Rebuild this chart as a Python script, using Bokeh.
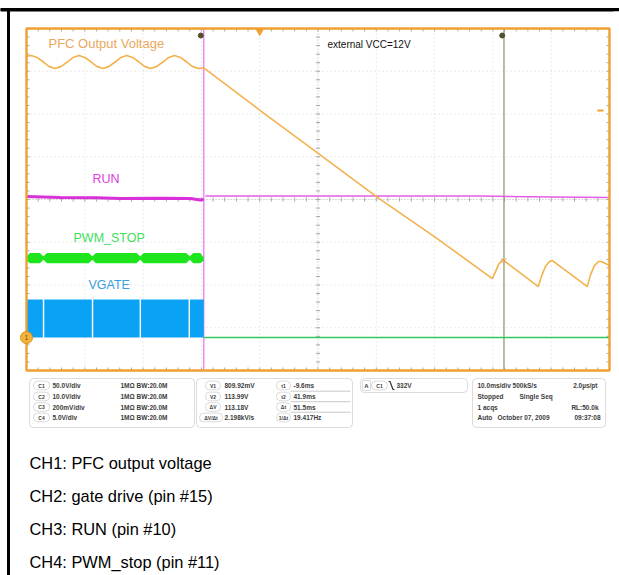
import numpy as np
from bokeh.plotting import figure
from bokeh.models import Range1d, BoxAnnotation
from bokeh.core.properties import value
from bokeh.embed import file_html
from bokeh.resources import INLINE

# ---------------- data ----------------
VDIV = {"CH1": 50.0, "CH2": 10.0, "CH3": 0.2, "CH4": 5.0}   # volts / division
GND = {"CH1": 0.77, "CH2": 0.77, "CH3": 4.0, "CH4": 0.77}   # ground position (div above bottom)
MS_PER_DIV = 10.0
T_START = -40.0
T_END = 60.0
CURSOR_T1 = -9.6
CURSOR_T2 = 41.9

# CH1: PFC output voltage (V)
pfc_t = [-40.0, -39.2, -38.2, -37.1, -36.1, -35.1, -34.1, -33.0, -32.0, -31.0,
         -30.0, -28.9, -27.9, -26.9, -25.9, -24.8, -23.8, -22.8, -21.8, -20.7,
         -19.7, -18.7, -17.7, -16.6, -15.6, -14.6, -13.6, -12.5, -11.5, -10.5,
         -9.6, 0.1, 8.7, 20.2, 30.2, 39.9, 40.45, 40.96, 41.65, 47.8,
         48.3, 49.0, 49.7, 50.2, 56.2, 56.7, 57.4, 58.1, 58.6, 60.0]
pfc_v = [329.0, 330.0, 327.7, 322.3, 316.9, 314.6, 316.9, 322.3, 327.7, 330.0,
         327.7, 322.3, 316.9, 314.6, 316.9, 322.3, 327.7, 330.0, 327.7, 322.3,
         316.9, 314.6, 316.9, 322.3, 327.7, 330.0, 327.7, 322.3, 316.9, 314.6,
         315.5, 265.5, 222.2, 164.0, 117.0, 69.0, 77.2, 85.4, 91.2, 59.6,
         71.3, 83.0, 88.9, 90.1, 59.6, 72.5, 84.2, 88.9, 88.9, 84.2]

# CH3: RUN (V)
run_before_t = [-40.0, -34.2, -28.0, -23.9, -17.0, -11.9, -10.2, -9.6]
run_before_v = [0.014, 0.009, 0.008, 0.005, 0.006, 0.005, -0.002, 0.0]
run_after_t = [-9.3, 37.9, 49.9, 60.0]
run_after_v = [0.016, 0.016, 0.012, 0.009]

# CH4: PWM_STOP envelope (V)
pwm_t = [-40.0, -39.4, -37.7, -37.1, -36.5, -29.3, -28.7, -28.1, -21.1, -20.5,
         -19.9, -12.6, -12.0, -11.4, -10.2, -9.6]
pwm_hi = [9.5, 9.9, 9.9, 9.5, 9.9, 9.9, 9.5, 9.9, 9.9, 9.5,
          9.9, 9.9, 9.5, 9.9, 9.9, 9.4]
pwm_lo = [9.0, 8.7, 8.7, 9.1, 8.7, 8.7, 9.1, 8.7, 8.7, 9.1,
          8.7, 8.7, 9.1, 8.7, 8.7, 9.0]
pwm_off_t = [-9.6, 60.0]
pwm_off_v = [0.0, 0.0]

# CH2: VGATE switching bursts (ms) and level (V)
vgate_on = [-40.0, -36.95, -28.55, -20.35, -11.95]
vgate_off = [-37.2, -28.8, -20.6, -12.2, -9.6]
vgate_high = 8.9

# readout texts
ch_rows = [("C1", "50.0V/div"), ("C2", "10.0V/div"), ("C3", "200mV/div"), ("C4", "5.0V/div")]
cur_v = [("V1", "809.92mV"), ("V2", "113.99V"), ("ΔV", "113.18V"), ("ΔV/Δt", "2.198kV/s")]
cur_t = [("t1", "-9.6ms"), ("t2", "41.9ms"), ("Δt", "51.5ms"), ("1/Δt", "19.417Hz")]
captions = ["CH1: PFC output voltage", "CH2: gate drive (pin #15)",
            "CH3: RUN (pin #10)", "CH4: PWM_stop (pin #11)"]

# ---------------- geometry helpers ----------------
PX_PER_MS = 5.83
PX_PER_DIV = 42.75
W, H = 619, 575


def X(px):
    return T_START + (px - 26) / PX_PER_MS


def Y(py):
    return (370 - py) / PX_PER_DIV


def to_div(v, ch):
    return list(np.asarray(v, dtype=float) / VDIV[ch] + GND[ch])


FONT = value("Liberation Sans")

p = figure(width=W, height=H, x_range=Range1d(X(0), X(W)), y_range=Range1d(Y(H), Y(0)),
           output_backend="svg", toolbar_location=None, min_border=0,
           x_axis_type=None, y_axis_type=None, outline_line_color=None,
           background_fill_color="white", border_fill_color="white")

# outer page borders
p.quad(left=[X(0)], right=[X(W)], top=[Y(8)], bottom=[Y(10.5)], color="black")
p.quad(left=[X(7)], right=[X(9)], top=[Y(8)], bottom=[Y(H)], color="black")

# graticule
gx = [T_START + MS_PER_DIV * i for i in range(1, 10) if i != 5]
p.segment(x0=gx, y0=[0] * len(gx), x1=gx, y1=[8] * len(gx), line_color="#d4d4d4", line_dash="1 3")
gy = [i for i in range(1, 8) if i != 4]
p.segment(x0=[T_START] * len(gy), y0=gy, x1=[T_END] * len(gy), y1=gy, line_color="#d4d4d4", line_dash="1 3")
p.segment(x0=[10.0], y0=[0], x1=[10.0], y1=[8], line_color="#b4b4b4", line_dash="1 2")
p.segment(x0=[T_START], y0=[4], x1=[T_END], y1=[4], line_color="#b4b4b4", line_dash="1 2")

tl_x = 3 / PX_PER_MS
tl_y = 3 / PX_PER_DIV
minor_t = np.arange(T_START + 2, T_END, 2.0)
minor_d = np.arange(0.2, 8.0, 0.2)
tick_col = "#a8a8a8"
# top and bottom edges
p.segment(x0=minor_t, y0=np.full_like(minor_t, 8), x1=minor_t, y1=np.full_like(minor_t, 8 - tl_y), line_color=tick_col)
p.segment(x0=minor_t, y0=np.full_like(minor_t, 0), x1=minor_t, y1=np.full_like(minor_t, tl_y), line_color=tick_col)
# left and right edges
p.segment(x0=np.full_like(minor_d, T_START), y0=minor_d, x1=np.full_like(minor_d, T_START + tl_x), y1=minor_d, line_color=tick_col)
p.segment(x0=np.full_like(minor_d, T_END), y0=minor_d, x1=np.full_like(minor_d, T_END - tl_x), y1=minor_d, line_color=tick_col)
# centre cross ticks
p.segment(x0=np.full_like(minor_d, 10 - tl_x * 0.7), y0=minor_d, x1=np.full_like(minor_d, 10 + tl_x * 0.7), y1=minor_d, line_color=tick_col)
p.segment(x0=minor_t, y0=np.full_like(minor_t, 4 - tl_y * 0.7), x1=minor_t, y1=np.full_like(minor_t, 4 + tl_y * 0.7), line_color=tick_col)

# cursors
p.segment(x0=[CURSOR_T1], y0=[0], x1=[CURSOR_T1], y1=[8], line_color="#f08af0", line_width=1.5)
p.segment(x0=[CURSOR_T2], y0=[0], x1=[CURSOR_T2], y1=[8], line_color="#8f8f68", line_width=1.2)
p.scatter(x=[CURSOR_T1 - 0.5, CURSOR_T2 - 0.3], y=[Y(35), Y(35)], size=5, color="#50502c")

# CH2 VGATE band
p.quad(left=vgate_on, right=vgate_off, bottom=[GND["CH2"]] * len(vgate_on),
       top=[vgate_high / VDIV["CH2"] + GND["CH2"]] * len(vgate_on), color="#0aa2f5", line_width=0)

# CH4 PWM_STOP
p.varea(x=pwm_t, y1=to_div(pwm_lo, "CH4"), y2=to_div(pwm_hi, "CH4"), fill_color="#1ee61e")
p.line(x=pwm_off_t, y=to_div(pwm_off_v, "CH4"), line_color="#30c860", line_width=1.5)

# CH3 RUN
p.line(x=run_before_t, y=to_div(run_before_v, "CH3"), line_color="#d930d9", line_width=3)
p.line(x=run_after_t, y=to_div(run_after_v, "CH3"), line_color="#e45ce4", line_width=1.5)

# CH1 PFC voltage
p.line(x=pfc_t, y=to_div(pfc_v, "CH1"), line_color="#f2b24e", line_width=1.6)
p.scatter(x=[CURSOR_T2], y=to_div([float(np.interp(CURSOR_T2, pfc_t, pfc_v))], "CH1"),
          marker="x", size=7, line_color="#e8a040", line_width=1)

# frame
p.quad(left=[T_START], right=[T_END], bottom=[0], top=[8], fill_alpha=0, line_color="#f0a030", line_width=2.4)

# trigger & level markers
p.scatter(x=[0.0], y=[Y(31)], marker="inverted_triangle", size=7, color="#f0a030")
p.scatter(x=[X(600)], y=[Y(110)], marker="dash", size=6, line_color="#f0a030", line_width=2)
p.scatter(x=[T_START], y=[GND["CH1"]], size=12, fill_color="#f4b43c", line_color="#d99020")
p.text(x=[T_START], y=[GND["CH1"]], text=["1"], text_font=FONT, text_font_size="7px",
       text_color="#7a5000", text_align="center", text_baseline="middle")

# trace labels
p.text(x=[X(48)], y=[Y(43)], text=["PFC Output Voltage"], text_font=FONT, text_font_size="13px",
       text_color="#eaa85c", text_baseline="middle")
p.text(x=[X(92)], y=[Y(178)], text=["RUN"], text_font=FONT, text_font_size="12.5px",
       text_color="#e040e0", text_baseline="middle")
p.text(x=[X(73)], y=[Y(237)], text=["PWM_STOP"], text_font=FONT, text_font_size="12.5px",
       text_color="#3ee05c", text_baseline="middle")
p.text(x=[X(88)], y=[Y(284)], text=["VGATE"], text_font=FONT, text_font_size="12.5px",
       text_color="#3a9ee0", text_baseline="middle")
p.text(x=[X(327)], y=[Y(44)], text=["external VCC=12V"], text_font=FONT, text_font_size="10px",
       text_color="#111111", text_baseline="middle")


# readout panels
def box(l, r, t, b, rad=4, col="#8a8a8a"):
    p.add_layout(BoxAnnotation(left=X(l), right=X(r), top=Y(t), bottom=Y(b), fill_alpha=0,
                               line_color=col, line_width=1, border_radius=rad))


def small(xp, yp, s, align="left", size="6.5px", col="#3c3c3c"):
    p.text(x=[X(xp)], y=[Y(yp)], text=[s], text_font=FONT, text_font_size=size,
           text_font_style="bold", text_color=col, text_align=align, text_baseline="middle")


rows_y = [385, 396, 406.5, 417]
box(29, 194, 378, 427)
for (lab, val), ry in zip(ch_rows, rows_y):
    box(33, 49, ry - 4.3, ry + 4.3, rad=4, col="#888888")
    small(41, ry, lab, align="center", size="5px")
    small(52, ry, val)
    small(120, ry, "1MΩ")
    small(136, ry, "BW:20.0M")

box(196, 352, 378, 427)
for (lab, val), ry in zip(cur_v, rows_y):
    if len(lab) > 2:
        box(199, 222, ry - 4.3, ry + 4.3, rad=4, col="#888888")
        small(210.5, ry, lab, align="center", size="5px")
    else:
        box(205, 220, ry - 4.3, ry + 4.3, rad=4, col="#888888")
        small(212.5, ry, lab, align="center", size="5px")
    small(224, ry, val)
for (lab, val), ry in zip(cur_t, rows_y):
    box(276, 290, ry - 4.3, ry + 4.3, rad=4, col="#888888")
    small(283, ry, lab, align="center", size="5px")
    small(293, ry, val)
p.segment(x0=[X(290)] * 3, y0=[Y(390.7), Y(401.2), Y(411.7)], x1=[X(350)] * 3,
          y1=[Y(390.7), Y(401.2), Y(411.7)], line_color="#c8c8c8", line_width=1)

box(360, 467, 378, 392)
box(362, 370, 380, 390, rad=1, col="#888888")
small(366, 385, "A", align="center", size="6px")
box(371, 387, 380.7, 389.3, rad=4, col="#888888")
small(379, 385, "C1", align="center", size="5px")
p.line(x=[X(388), X(389.5), X(392.5), X(394)], y=[Y(381), Y(381), Y(389), Y(389)], line_color="#333333", line_width=1.2)
small(396, 385, "332V")

box(472, 605, 378, 427)
small(477, rows_y[0], "10.0ms/div 500kS/s")
small(597, rows_y[0], "2.0µs/pt", align="right")
small(477, rows_y[1], "Stopped")
small(519, rows_y[1], "Single Seq")
small(477, rows_y[2], "1 acqs")
small(598, rows_y[2], "RL:50.0k", align="right")
small(477, rows_y[3], "Auto")
small(497, rows_y[3], "October 07, 2009")
small(600, rows_y[3], "09:37:08", align="right")

# captions
cap_y = [462, 495, 528, 561]
p.text(x=[X(29)] * 4, y=[Y(v) for v in cap_y], text=captions, text_font=FONT, text_font_size="16.4px",
       text_color="black", text_baseline="middle")

# keep the right page edge clean
p.quad(left=[X(613)], right=[X(W + 2)], top=[Y(11)], bottom=[Y(H + 2)], color="white", line_width=0)

open("out.html", "w").write(file_html(p, INLINE))
